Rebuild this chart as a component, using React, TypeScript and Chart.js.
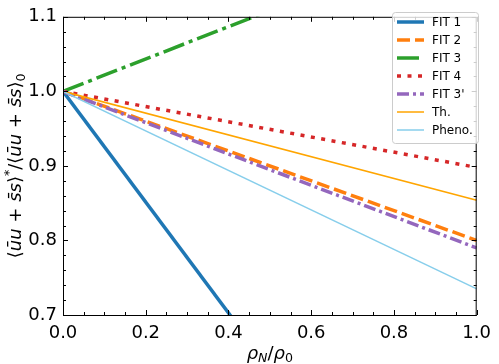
import React, { useEffect, useRef } from "react";
import { Chart, registerables } from "chart.js";
Chart.register(...registerables);

// ---- data ----
const rhoRatio = [0, 1];
const fit1 = [1.0, 0.257];
const fit2 = [1.0, 0.8];
const fit3 = [1.0, 1.217];
const fit4 = [1.0, 0.898];
const fit3p = [1.0, 0.79];
const theory = [1.0, 0.854];
const pheno = [1.0, 0.735];
const seriesNames = ["FIT 1", "FIT 2", "FIT 3", "FIT 4", "FIT 3'", "Th.", "Pheno."];
const seriesValues = [fit1, fit2, fit3, fit4, fit3p, theory, pheno];
const xMin = 0, xMax = 1, xStep = 0.2, xMinor = 0.05;
const yMin = 0.7, yMax = 1.1, yStep = 0.1, yMinor = 0.02;

const styles = [
  { color: "#1f77b4", width: 3.5, dash: [] as number[] },
  { color: "#ff7f0e", width: 3.5, dash: [13, 5] },
  { color: "#2ca02c", width: 3.5, dash: [22, 5, 4, 5] },
  { color: "#d62728", width: 3.5, dash: [4, 6.5] },
  { color: "#9467bd", width: 3.5, dash: [12, 4, 3, 4] },
  { color: "#ffa500", width: 1.5, dash: [] as number[] },
  { color: "#87ceeb", width: 1.5, dash: [] as number[] },
];

const FONT = '"DejaVu Sans", sans-serif';

type Run = { t: string; it?: boolean; sz: number; dy?: number };

function drawRuns(ctx: CanvasRenderingContext2D, runs: Run[], x: number, y: number) {
  let total = 0;
  const widths: number[] = [];
  for (const r of runs) {
    ctx.font = `${r.it ? "italic " : ""}${r.sz}px ${FONT}`;
    const w = ctx.measureText(r.t).width;
    widths.push(w);
    total += w;
  }
  let cx = x - total / 2;
  ctx.textBaseline = "alphabetic";
  ctx.textAlign = "left";
  runs.forEach((r, i) => {
    ctx.font = `${r.it ? "italic " : ""}${r.sz}px ${FONT}`;
    ctx.fillText(r.t, cx, y + (r.dy || 0));
    cx += widths[i];
  });
}

const decorPlugin = {
  id: "decor",
  afterDatasetsDraw(chart: any) {
    const { ctx, chartArea: a, scales } = chart;
    const xs = scales.x, ys = scales.y;
    ctx.save();
    ctx.strokeStyle = "#000";
    ctx.lineWidth = 1;
    const line = (x1: number, y1: number, x2: number, y2: number) => {
      ctx.beginPath(); ctx.moveTo(x1, y1); ctx.lineTo(x2, y2); ctx.stroke();
    };
    const nx = Math.round((xMax - xMin) / xMinor);
    for (let k = 0; k <= nx; k++) {
      const v = xMin + k * xMinor;
      const len = k % Math.round(xStep / xMinor) === 0 ? 5 : 3;
      const px = Math.round(xs.getPixelForValue(v)) + 0.5;
      line(px, a.bottom, px, a.bottom - len);
      line(px, a.top, px, a.top + len);
    }
    const ny = Math.round((yMax - yMin) / yMinor);
    for (let k = 0; k <= ny; k++) {
      const v = yMin + k * yMinor;
      const len = k % Math.round(yStep / yMinor) === 0 ? 5 : 3;
      const py = Math.round(ys.getPixelForValue(v)) + 0.5;
      line(a.left, py, a.left + len, py);
      line(a.right, py, a.right - len, py);
    }
    ctx.strokeRect(a.left + 0.5, a.top + 0.5, a.right - a.left - 1, a.bottom - a.top);
    ctx.restore();
  },
  afterDraw(chart: any) {
    const { ctx, chartArea: a } = chart;
    ctx.save();
    ctx.fillStyle = "#000";
    // x label
    const xr: Run[] = [
      { t: "ρ", it: true, sz: 18 },
      { t: "N", it: true, sz: 12.6, dy: 3 },
      { t: "/", sz: 18 },
      { t: "ρ", it: true, sz: 18 },
      { t: "0", sz: 12.6, dy: 3 },
    ];
    drawRuns(ctx, xr, (a.left + a.right) / 2, 359);
    // y label
    ctx.save();
    ctx.translate(21, (a.top + a.bottom) / 2);
    ctx.rotate(-Math.PI / 2);
    const yr: Run[] = [
      { t: "⟨", sz: 18 },
      { t: "u\u0304u", it: true, sz: 18 },
      { t: " + ", sz: 18 },
      { t: "s\u0304s", it: true, sz: 18 },
      { t: "⟩", sz: 18 },
      { t: "*", sz: 12.6, dy: -8 },
      { t: "/", sz: 18 },
      { t: "⟨", sz: 18 },
      { t: "u\u0304u", it: true, sz: 18 },
      { t: " + ", sz: 18 },
      { t: "s\u0304s", it: true, sz: 18 },
      { t: "⟩", sz: 18 },
      { t: "0", sz: 12.6, dy: 4 },
    ];
    drawRuns(ctx, yr, 0, 0);
    ctx.restore();

    // legend
    const bx = 392.5, by = 12.5, bw = 86, bh = 131, r = 3;
    ctx.beginPath();
    ctx.moveTo(bx + r, by);
    ctx.lineTo(bx + bw - r, by);
    ctx.arcTo(bx + bw, by, bx + bw, by + r, r);
    ctx.lineTo(bx + bw, by + bh - r);
    ctx.arcTo(bx + bw, by + bh, bx + bw - r, by + bh, r);
    ctx.lineTo(bx + r, by + bh);
    ctx.arcTo(bx, by + bh, bx, by + bh - r, r);
    ctx.lineTo(bx, by + r);
    ctx.arcTo(bx, by, bx + r, by, r);
    ctx.closePath();
    ctx.fillStyle = "rgba(255,255,255,0.8)";
    ctx.fill();
    ctx.strokeStyle = "#cccccc";
    ctx.lineWidth = 1;
    ctx.stroke();
    seriesNames.forEach((name, i) => {
      const yy = 22 + i * 18;
      const s = styles[i];
      ctx.save();
      ctx.strokeStyle = s.color;
      ctx.lineWidth = s.width;
      ctx.setLineDash(s.dash);
      ctx.lineCap = "butt";
      ctx.beginPath();
      ctx.moveTo(397, yy);
      ctx.lineTo(424, yy);
      ctx.stroke();
      ctx.restore();
      ctx.fillStyle = "#000";
      ctx.font = `12px ${FONT}`;
      ctx.textAlign = "left";
      ctx.textBaseline = "middle";
      ctx.fillText(name, 432, yy + 0.5);
    });
    ctx.restore();
  },
};

export default function App() {
  const ref = useRef<HTMLCanvasElement>(null);
  useEffect(() => {
    document.body.style.margin = "0";
    const canvas = ref.current!;
    const chart = new Chart(canvas, {
      type: "line",
      data: {
        datasets: seriesNames.map((name, i) => ({
          label: name,
          data: rhoRatio.map((x, j) => ({ x, y: seriesValues[i][j] })),
          borderColor: styles[i].color,
          backgroundColor: styles[i].color,
          borderWidth: styles[i].width,
          borderDash: styles[i].dash,
          borderCapStyle: "butt",
          pointRadius: 0,
          tension: 0,
          fill: false,
          clip: 0,
          order: seriesNames.length - i,
        })),
      },
      options: {
        animation: false,
        responsive: false,
        devicePixelRatio: 1,
        layout: { padding: { left: 0, top: 5, right: 15, bottom: 0 }, autoPadding: false },
        plugins: { legend: { display: false }, tooltip: { enabled: false } },
        scales: {
          x: {
            type: "linear",
            min: xMin,
            max: xMax,
            grid: { display: false, drawTicks: false },
            border: { display: false },
            ticks: {
              stepSize: xStep,
              padding: 8,
              color: "#000",
              font: { family: FONT, size: 18 },
              maxRotation: 0,
              callback: (v: any) => Number(v).toFixed(1),
            },
            afterFit: (s: any) => { s.height = 49; },
          },
          y: {
            type: "linear",
            min: yMin,
            max: yMax,
            grid: { display: false, drawTicks: false },
            border: { display: false },
            ticks: {
              stepSize: yStep,
              padding: 6,
              color: "#000",
              font: { family: FONT, size: 18 },
              callback: (v: any) => Number(v).toFixed(1),
            },
            afterFit: (s: any) => { s.width = 63; },
          },
        },
      },
      plugins: [decorPlugin],
    } as any);
    return () => chart.destroy();
  }, []);
  return (
    <div style={{ width: 499, height: 364 }}>
      <canvas ref={ref} width={499} height={364} style={{ display: "block" }} />
    </div>
  );
}
